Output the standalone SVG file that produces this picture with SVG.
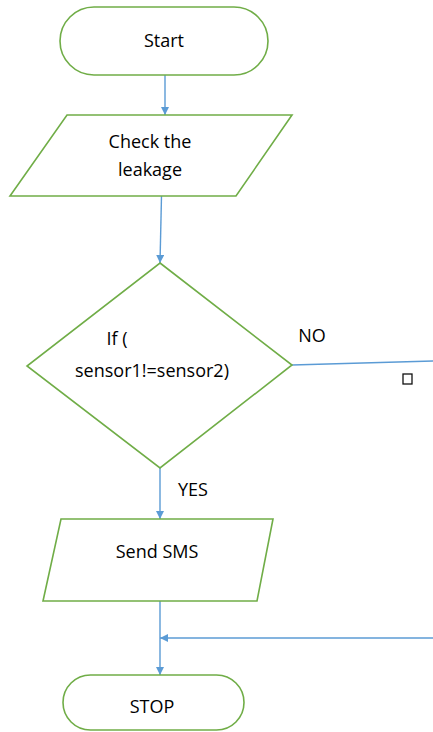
<svg xmlns="http://www.w3.org/2000/svg" width="433" height="732" viewBox="0 0 433 732">
<defs>
<style>
.shape{fill:#fff;stroke:#70ad47;stroke-width:1.6}
.conn{fill:none;stroke:#5b9bd5;stroke-width:1.4}
.t{font-family:"Open Sans","Liberation Sans",sans-serif;font-size:18px;fill:#000;text-anchor:middle}
</style>
<marker id="ah" viewBox="0 0 10 10" refX="10" refY="5" markerWidth="8" markerHeight="8" markerUnits="userSpaceOnUse" orient="auto">
<path d="M0,0 L10,5 L0,10 z" fill="#5b9bd5"/>
</marker>
</defs>
<rect width="433" height="732" fill="#fff"/>
<g id="connectors">
<line class="conn" x1="165" y1="75" x2="165" y2="115" marker-end="url(#ah)"/>
<line class="conn" x1="161.5" y1="196" x2="160" y2="263" marker-end="url(#ah)"/>
<line class="conn" x1="292" y1="365" x2="433" y2="361"/>
<line class="conn" x1="160" y1="468" x2="160" y2="519" marker-end="url(#ah)"/>
<line class="conn" x1="160" y1="601" x2="160" y2="675" marker-end="url(#ah)"/>
<line class="conn" x1="433" y1="638" x2="160" y2="638" marker-end="url(#ah)"/>
</g>
<g id="start">
<rect class="shape" x="60" y="7" width="208" height="68" rx="34" ry="34"/>
<text class="t" x="164" y="47">Start</text>
</g>
<g id="check">
<polygon class="shape" points="67,115 292,115 236,196 10,196"/>
<text class="t" x="150" y="148">Check the</text>
<text class="t" x="150" y="176">leakage</text>
</g>
<g id="decision">
<polygon class="shape" points="160,263 292,365 160,468 27,366"/>
<text class="t" x="117" y="345">If (</text>
<text class="t" x="152" y="377">sensor1!=sensor2)</text>
</g>
<g id="labels">
<text class="t" x="312" y="342">NO</text>
<text class="t" x="193" y="496">YES</text>
<rect x="403" y="374" width="9" height="10" fill="none" stroke="#111" stroke-width="1.3"/>
</g>
<g id="send">
<polygon class="shape" points="61,519 273,519 257,601 43,601"/>
<text class="t" x="157" y="558">Send SMS</text>
</g>
<g id="stop">
<rect class="shape" x="63" y="675" width="181" height="55" rx="27.5" ry="27.5"/>
<text class="t" x="152" y="713">STOP</text>
</g>
</svg>
